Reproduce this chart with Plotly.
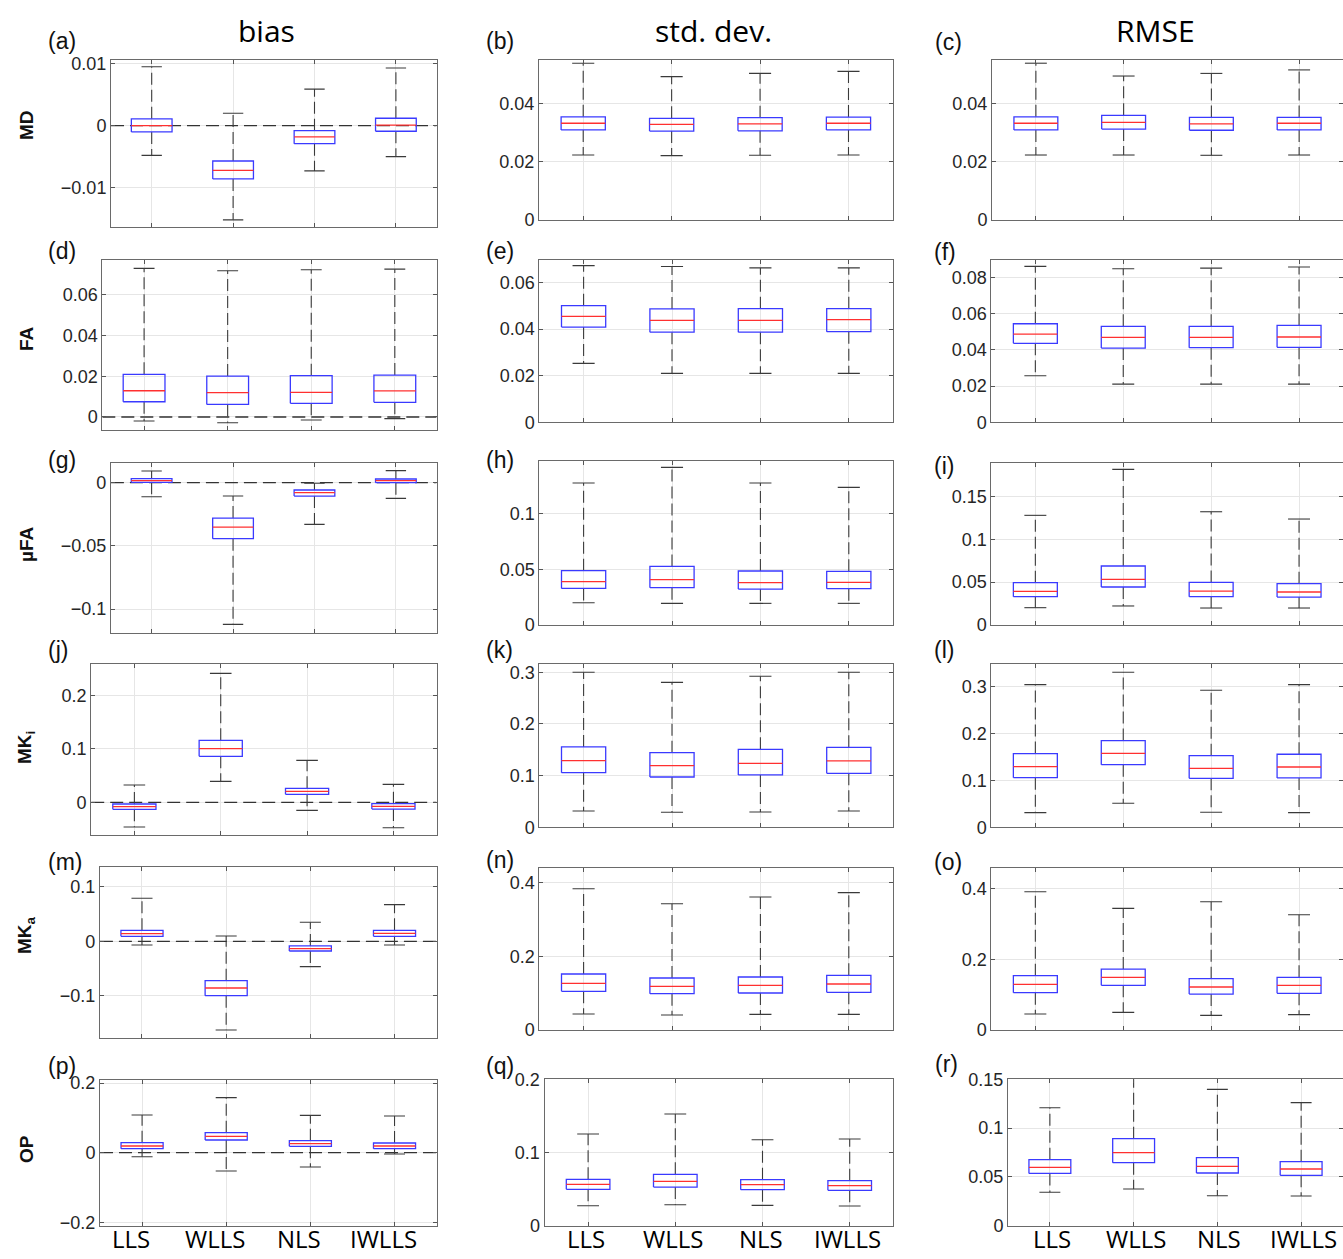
import plotly.graph_objects as go

W, H = 1343, 1259
categories = ["LLS", "WLLS", "NLS", "IWLLS"]
col_titles = ["bias", "std. dev.", "RMSE"]
row_labels = ["MD", "FA", "µFA", "MK<sub>i</sub>", "MK<sub>a</sub>", "OP"]

# ---- box statistics (upper whisker, q3, median, q1, lower whisker) ----
a_upper = [0.0095, 0.0020, 0.0059, 0.0093]
a_q3 = [0.0011, -0.0057, -0.0008, 0.0012]
a_med = [0.0000, -0.0072, -0.0018, 0.0001]
a_q1 = [-0.0010, -0.0086, -0.0029, -0.0009]
a_lower = [-0.0048, -0.0152, -0.0073, -0.0050]

b_upper = [0.0538, 0.0492, 0.0503, 0.0510]
b_q3 = [0.0354, 0.0349, 0.0351, 0.0353]
b_med = [0.0332, 0.0328, 0.0330, 0.0332]
b_q1 = [0.0309, 0.0305, 0.0306, 0.0309]
b_lower = [0.0223, 0.0221, 0.0222, 0.0223]

c_upper = [0.0538, 0.0494, 0.0503, 0.0515]
c_q3 = [0.0354, 0.0359, 0.0352, 0.0352]
c_med = [0.0332, 0.0335, 0.0330, 0.0332]
c_q1 = [0.0309, 0.0312, 0.0308, 0.0309]
c_lower = [0.0223, 0.0223, 0.0222, 0.0223]

d_upper = [0.0731, 0.0719, 0.0724, 0.0727]
d_q3 = [0.0210, 0.0201, 0.0203, 0.0206]
d_med = [0.0129, 0.0120, 0.0121, 0.0128]
d_q1 = [0.0075, 0.0062, 0.0067, 0.0072]
d_lower = [-0.0020, -0.0028, -0.0015, -0.0008]

e_upper = [0.0673, 0.0669, 0.0663, 0.0663]
e_q3 = [0.0501, 0.0487, 0.0488, 0.0488]
e_med = [0.0455, 0.0438, 0.0438, 0.0441]
e_q1 = [0.0409, 0.0387, 0.0387, 0.0389]
e_lower = [0.0253, 0.0210, 0.0210, 0.0210]

f_upper = [0.0861, 0.0848, 0.0851, 0.0857]
f_q3 = [0.0544, 0.0530, 0.0530, 0.0535]
f_med = [0.0487, 0.0469, 0.0469, 0.0471]
f_q1 = [0.0436, 0.0410, 0.0412, 0.0414]
f_lower = [0.0257, 0.0211, 0.0211, 0.0211]

g_upper = [0.0092, -0.0106, -0.0005, 0.0095]
g_q3 = [0.0032, -0.0280, -0.0058, 0.0029]
g_med = [0.0016, -0.0351, -0.0079, 0.0016]
g_q1 = [0.0003, -0.0443, -0.0106, 0.0000]
g_lower = [-0.0111, -0.1121, -0.0330, -0.0124]

h_upper = [0.1272, 0.1412, 0.1272, 0.1233]
h_q3 = [0.0487, 0.0525, 0.0484, 0.0481]
h_med = [0.0388, 0.0406, 0.0379, 0.0382]
h_q1 = [0.0328, 0.0334, 0.0322, 0.0325]
h_lower = [0.0200, 0.0194, 0.0194, 0.0194]

i_upper = [0.1279, 0.1815, 0.1321, 0.1236]
i_q3 = [0.0494, 0.0688, 0.0497, 0.0482]
i_med = [0.0393, 0.0532, 0.0396, 0.0385]
i_q1 = [0.0330, 0.0443, 0.0330, 0.0326]
i_lower = [0.0202, 0.0222, 0.0198, 0.0198]

j_upper = [0.0324, 0.2411, 0.0785, 0.0336]
j_q3 = [-0.0031, 0.1159, 0.0262, -0.0025]
j_med = [-0.0081, 0.1003, 0.0206, -0.0075]
j_q1 = [-0.0131, 0.0860, 0.0150, -0.0125]
j_lower = [-0.0461, 0.0393, -0.0150, -0.0474]

k_upper = [0.3000, 0.2806, 0.2923, 0.3000]
k_q3 = [0.1555, 0.1445, 0.1510, 0.1548]
k_med = [0.1290, 0.1194, 0.1239, 0.1284]
k_q1 = [0.1058, 0.0974, 0.1013, 0.1045]
k_lower = [0.0316, 0.0290, 0.0297, 0.0316]

l_upper = [0.3042, 0.3305, 0.2921, 0.3042]
l_q3 = [0.1571, 0.1848, 0.1528, 0.1557]
l_med = [0.1294, 0.1578, 0.1258, 0.1286]
l_q1 = [0.1059, 0.1336, 0.1045, 0.1052]
l_lower = [0.0313, 0.0512, 0.0320, 0.0313]

m_upper = [0.0787, 0.0098, 0.0348, 0.0671]
m_q3 = [0.0201, -0.0720, -0.0085, 0.0201]
m_med = [0.0140, -0.0854, -0.0134, 0.0146]
m_q1 = [0.0091, -0.0994, -0.0177, 0.0091]
m_lower = [-0.0067, -0.1622, -0.0463, -0.0067]

n_upper = [0.3837, 0.3430, 0.3611, 0.3729]
n_q3 = [0.1520, 0.1412, 0.1439, 0.1484]
n_med = [0.1267, 0.1186, 0.1213, 0.1249]
n_q1 = [0.1050, 0.0986, 0.1005, 0.1023]
n_lower = [0.0434, 0.0407, 0.0425, 0.0425]

o_upper = [0.3906, 0.3435, 0.3624, 0.3256]
o_q3 = [0.1534, 0.1722, 0.1449, 0.1487]
o_med = [0.1289, 0.1487, 0.1214, 0.1261]
o_q1 = [0.1054, 0.1261, 0.1016, 0.1035]
o_lower = [0.0452, 0.0499, 0.0414, 0.0433]

p_upper = [0.1084, 0.1583, 0.1074, 0.1055]
p_q3 = [0.0288, 0.0576, 0.0345, 0.0278]
p_med = [0.0192, 0.0470, 0.0259, 0.0192]
p_q1 = [0.0115, 0.0365, 0.0182, 0.0115]
p_lower = [-0.0115, -0.0528, -0.0412, -0.0038]

q_upper = [0.1253, 0.1526, 0.1175, 0.1185]
q_q3 = [0.0633, 0.0702, 0.0629, 0.0615]
q_med = [0.0565, 0.0606, 0.0560, 0.0547]
q_q1 = [0.0497, 0.0528, 0.0492, 0.0483]
q_lower = [0.0273, 0.0287, 0.0278, 0.0269]

r_upper = [0.1209, 0.1580, 0.1397, 0.1261]
r_q3 = [0.0676, 0.0892, 0.0697, 0.0656]
r_med = [0.0598, 0.0748, 0.0608, 0.0581]
r_q1 = [0.0536, 0.0646, 0.0540, 0.0516]
r_lower = [0.0342, 0.0376, 0.0307, 0.0304]

# y ticks per panel
a_ticks = [-0.01, 0, 0.01]
b_ticks = [0, 0.02, 0.04]
c_ticks = [0, 0.02, 0.04]
d_ticks = [0, 0.02, 0.04, 0.06]
e_ticks = [0, 0.02, 0.04, 0.06]
f_ticks = [0, 0.02, 0.04, 0.06, 0.08]
g_ticks = [-0.1, -0.05, 0]
h_ticks = [0, 0.05, 0.1]
i_ticks = [0, 0.05, 0.1, 0.15]
j_ticks = [0, 0.1, 0.2]
k_ticks = [0, 0.1, 0.2, 0.3]
l_ticks = [0, 0.1, 0.2, 0.3]
m_ticks = [-0.1, 0, 0.1]
n_ticks = [0, 0.2, 0.4]
o_ticks = [0, 0.2, 0.4]
p_ticks = [-0.2, 0, 0.2]
q_ticks = [0, 0.1, 0.2]
r_ticks = [0, 0.05, 0.1, 0.15]

G = globals()
# layout: letter, (left, right, top, bottom) in px, y range, zero line
panels = [
    ("a", (111, 436.6, 60, 227.3), [-0.0164, 0.0106], True),
    ("b", (539, 892.7, 60, 220), [0, 0.0549], False),
    ("c", (992, 1343, 60, 220), [0, 0.0549], False),
    ("d", (102.3, 436.6, 260, 430), [-0.0064, 0.0772], True),
    ("e", (539.4, 893, 260, 422.3), [0, 0.0697], False),
    ("f", (991.4, 1343, 260, 422.3), [0, 0.0896], False),
    ("g", (110.9, 436.6, 462.7, 632.7), [-0.1187, 0.0158], True),
    ("h", (539.4, 893, 460.7, 625), [0, 0.1472], False),
    ("i", (991.4, 1343, 462.7, 625), [0, 0.1893], False),
    ("j", (91.2, 436.6, 664.3, 835), [-0.061, 0.258], True),
    ("k", (539.4, 893, 664.3, 827.3), [0, 0.3155], False),
    ("l", (991.4, 1343, 664.3, 827.3), [0, 0.3475], False),
    ("m", (99.9, 436.6, 867.3, 1038.3), [-0.1774, 0.1354], True),
    ("n", (539.4, 893, 867.7, 1030), [0, 0.4407], False),
    ("o", (991.4, 1343, 867.7, 1030), [0, 0.4584], False),
    ("p", (100, 436.6, 1080, 1225.7), [-0.21, 0.209], True),
    ("q", (544.5, 893.3, 1079.3, 1225.7), [0, 0.2], False),
    ("r", (1008, 1343, 1079.3, 1225.7), [0, 0.15], False),
]

label_pos = {
    "a": (46, 41), "b": (484, 41), "c": (933, 42),
    "d": (46, 251), "e": (484, 251), "f": (932, 252),
    "g": (46, 460), "h": (484, 460), "i": (932, 466),
    "j": (46, 650), "k": (484, 650), "l": (932, 650),
    "m": (46, 862), "n": (484, 860), "o": (932, 862),
    "p": (46, 1066), "q": (484, 1066), "r": (933, 1064),
}
# small horizontal offsets of the category labels under each bottom panel
cat_shift = {"p": -11, "q": -2, "r": 2}

TICKFONT = dict(family="Liberation Sans, Arial, sans-serif", size=18, color="#262626")
BOX_HALF = 0.25
CAP_HALF = 0.125


def fmt(v):
    if v == 0:
        return "0"
    s = f"{v:g}"
    return s.replace("-", "\u2212")


fig = go.Figure()
annotations = []

for idx, (key, (L, R, T, B), yr, zero) in enumerate(panels):
    n = idx + 1
    xa = "x" if n == 1 else f"x{n}"
    ya = "y" if n == 1 else f"y{n}"
    up, q3, med, q1, lo = (G[f"{key}_upper"], G[f"{key}_q3"], G[f"{key}_med"],
                           G[f"{key}_q1"], G[f"{key}_lower"])
    bx, by, mx, my, wx, wy, cx, cy = [], [], [], [], [], [], [], []
    for ci in range(len(categories)):
        x = ci + 1
        bx += [x - BOX_HALF, x + BOX_HALF, x + BOX_HALF, x - BOX_HALF, x - BOX_HALF, None]
        by += [q1[ci], q1[ci], q3[ci], q3[ci], q1[ci], None]
        mx += [x - BOX_HALF, x + BOX_HALF, None]
        my += [med[ci], med[ci], None]
        wx += [x, x, None, x, x, None]
        wy += [q3[ci], up[ci], None, q1[ci], lo[ci], None]
        cx += [x - CAP_HALF, x + CAP_HALF, None, x - CAP_HALF, x + CAP_HALF, None]
        cy += [up[ci], up[ci], None, lo[ci], lo[ci], None]
    if zero:
        # dashed reference line at zero, across the full axis range
        fig.add_trace(go.Scatter(x=[0.5, 4.5], y=[0, 0], mode="lines", xaxis=xa, yaxis=ya,
                                 line=dict(color="#333333", width=1.3, dash="13px,6px"),
                                 hoverinfo="skip", showlegend=False))
    fig.add_trace(go.Scatter(x=wx, y=wy, mode="lines", xaxis=xa, yaxis=ya,
                             line=dict(color="#3a3a3a", width=1.1, dash="12px,5px"),
                             hoverinfo="skip", showlegend=False))
    fig.add_trace(go.Scatter(x=cx, y=cy, mode="lines", xaxis=xa, yaxis=ya,
                             line=dict(color="#3a3a3a", width=1.1),
                             hoverinfo="skip", showlegend=False))
    fig.add_trace(go.Scatter(x=bx, y=by, mode="lines", xaxis=xa, yaxis=ya,
                             line=dict(color="#3a3aff", width=1.3),
                             hoverinfo="skip", showlegend=False))
    fig.add_trace(go.Scatter(x=mx, y=my, mode="lines", xaxis=xa, yaxis=ya,
                             line=dict(color="#ff3030", width=1.3),
                             hoverinfo="skip", showlegend=False))

    yt = G[f"{key}_ticks"]
    xaxis = dict(
        domain=[L / W, R / W], anchor=ya, range=[0.5, 4.5],
        tickvals=[1, 2, 3, 4], showticklabels=False, automargin=False,
        ticks="inside", ticklen=4, tickcolor="#555555", mirror="allticks",
        showline=True, linecolor="#6a6a6a", linewidth=1,
        showgrid=True, gridcolor="#e6e6e6", gridwidth=1, zeroline=False,
        fixedrange=True,
    )
    yaxis = dict(
        domain=[1 - B / H, 1 - T / H], anchor=xa, range=yr, automargin=False,
        tickvals=yt, ticktext=[fmt(v) for v in yt], tickfont=TICKFONT,
        ticks="inside", ticklen=4, tickcolor="#555555", mirror="allticks",
        showline=True, linecolor="#6a6a6a", linewidth=1,
        showgrid=True, gridcolor="#e6e6e6", gridwidth=1, zeroline=False,
        fixedrange=True,
    )
    fig.layout[f"xaxis{'' if n == 1 else n}"] = xaxis
    fig.layout[f"yaxis{'' if n == 1 else n}"] = yaxis

    lx, ly = label_pos[key]
    annotations.append(dict(text=f"({key})", xref="paper", yref="paper",
                            x=lx / W, y=1 - ly / H, xanchor="left", yanchor="middle",
                            showarrow=False,
                            font=dict(family="Liberation Sans, Arial, sans-serif",
                                      size=23, color="#111111")))
    if key in cat_shift:
        for ci, cat in enumerate(categories):
            annotations.append(dict(text=cat, xref=xa, yref="paper",
                                    x=ci + 1, y=0, xanchor="center", yanchor="bottom",
                                    xshift=cat_shift[key], yshift=2, showarrow=False,
                                    font=dict(family="Open Sans, sans-serif", size=24,
                                              color="#000000")))

# column titles
for title, cxp in zip(col_titles, [266, 713, 1155]):
    annotations.append(dict(text=title, xref="paper", yref="paper",
                            x=cxp / W, y=1 - 31 / H, xanchor="center", yanchor="middle",
                            showarrow=False,
                            font=dict(family="Open Sans, sans-serif", size=30, color="#000000")))

# row labels
for lab, cyp in zip(row_labels, [125, 339, 544, 748, 935, 1149]):
    annotations.append(dict(text="<b>" + lab + "</b>", xref="paper", yref="paper",
                            x=26 / W, y=1 - cyp / H, xanchor="center", yanchor="middle",
                            textangle=-90, showarrow=False,
                            font=dict(family="Liberation Sans, Arial, sans-serif",
                                      size=19, color="#111111")))

fig.update_layout(
    width=W, height=H, margin=dict(l=0, r=0, t=0, b=0, autoexpand=False),
    paper_bgcolor="white", plot_bgcolor="white",
    annotations=annotations, showlegend=False,
)

fig.write_html("out.html")
